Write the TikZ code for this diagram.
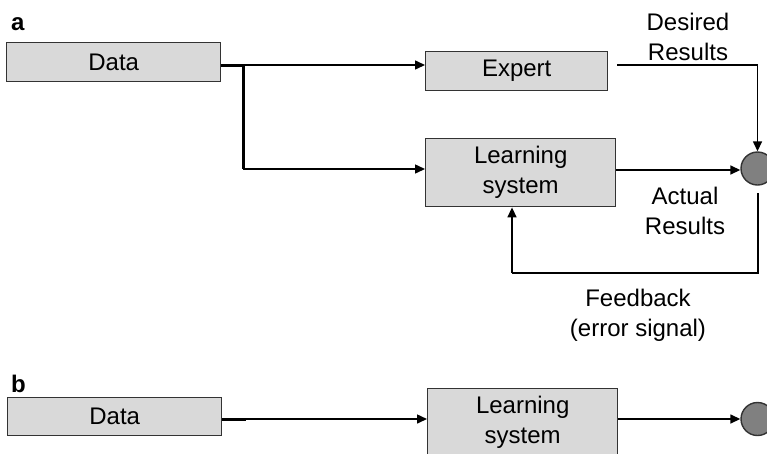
\documentclass[tikz,border=0pt]{standalone}
\usepackage{fontspec}
\setmainfont{Liberation Sans}
\usetikzlibrary{arrows.meta}
\definecolor{boxfill}{HTML}{D9D9D9}
\definecolor{dotfill}{HTML}{808080}
\definecolor{edge}{HTML}{333333}
\begin{document}
\begin{tikzpicture}[x=1pt,y=-1pt,
  font=\fontsize{24}{30}\selectfont,
  blockbox/.style={draw=edge,line width=1.4pt,fill=boxfill,inner sep=0pt,
    align=center,anchor=north west},
  junction/.style={circle,draw=edge,line width=1.4pt,fill=dotfill,
    minimum size=33pt,inner sep=0pt},
  flow/.style={line width=1.5pt,-{Triangle[length=10pt,width=9pt]}},
  plain/.style={line width=1.5pt},
  heavy/.style={line width=3pt},
  caption/.style={align=center,inner sep=0pt},
  tag/.style={font=\fontsize{24}{28}\selectfont\bfseries,inner sep=0pt,anchor=west}]
\clip (0,0) rectangle (767,453);
\fill[white] (0,0) rectangle (767,453);

% ---- part a: supervised learning ----
\node[tag] (taga) at (11,24) {a};
\node[blockbox,minimum width=214pt,minimum height=39pt] (dataA) at (6,42) {Data};
\node[blockbox,minimum width=182pt,minimum height=39pt] (expert) at (425,51) {Expert};
\node[blockbox,minimum width=190pt,minimum height=68pt] (learnA) at (425,138) {Learning\\system};
\node[junction] (sumA) at (757.5,168.5) {};

\coordinate (splitA) at (243,65);
\coordinate (expertOut) at (617,65);
\coordinate (feedR) at (758,273);
\coordinate (feedL) at (512,273);

\draw[heavy] (dataA.east |- splitA) -- (splitA);
\draw[heavy] (splitA) -- (243,169);
\draw[flow] (splitA) -- (expert.west |- splitA);
\draw[flow] (243,169) -- (learnA.west |- 243,169);
\draw[flow] (expertOut) -| (sumA.north);
\draw[flow] (learnA.east |- 0,170) -- (sumA.west |- 0,170);
\draw[plain] (758,193) -- (feedR) -- (feedL);
\draw[flow] (feedL) -- (feedL |- learnA.south);

\node[caption] (desired) at (688,37) {Desired\\Results};
\node[caption] (actual) at (685,211) {Actual\\Results};
\node[caption] (feedback) at (638,315) {Feedback\\(error signal)};

% ---- part b: unsupervised learning ----
\node[tag] (tagb) at (11,384) {b};
\node[blockbox,minimum width=214pt,minimum height=38pt] (dataB) at (7,397) {Data};
\node[blockbox,minimum width=190pt,minimum height=68pt] (learnB) at (427,388) {Learning\\system};
\node[junction] (sumB) at (757.5,419) {};

\coordinate (splitB) at (246,419);
\draw[heavy] (dataB.east |- splitB) -- (splitB);
\draw[flow] (splitB) -- (learnB.west |- splitB);
\draw[flow] (learnB.east |- 0,419) -- (sumB.west |- 0,419);
\end{tikzpicture}
\end{document}
